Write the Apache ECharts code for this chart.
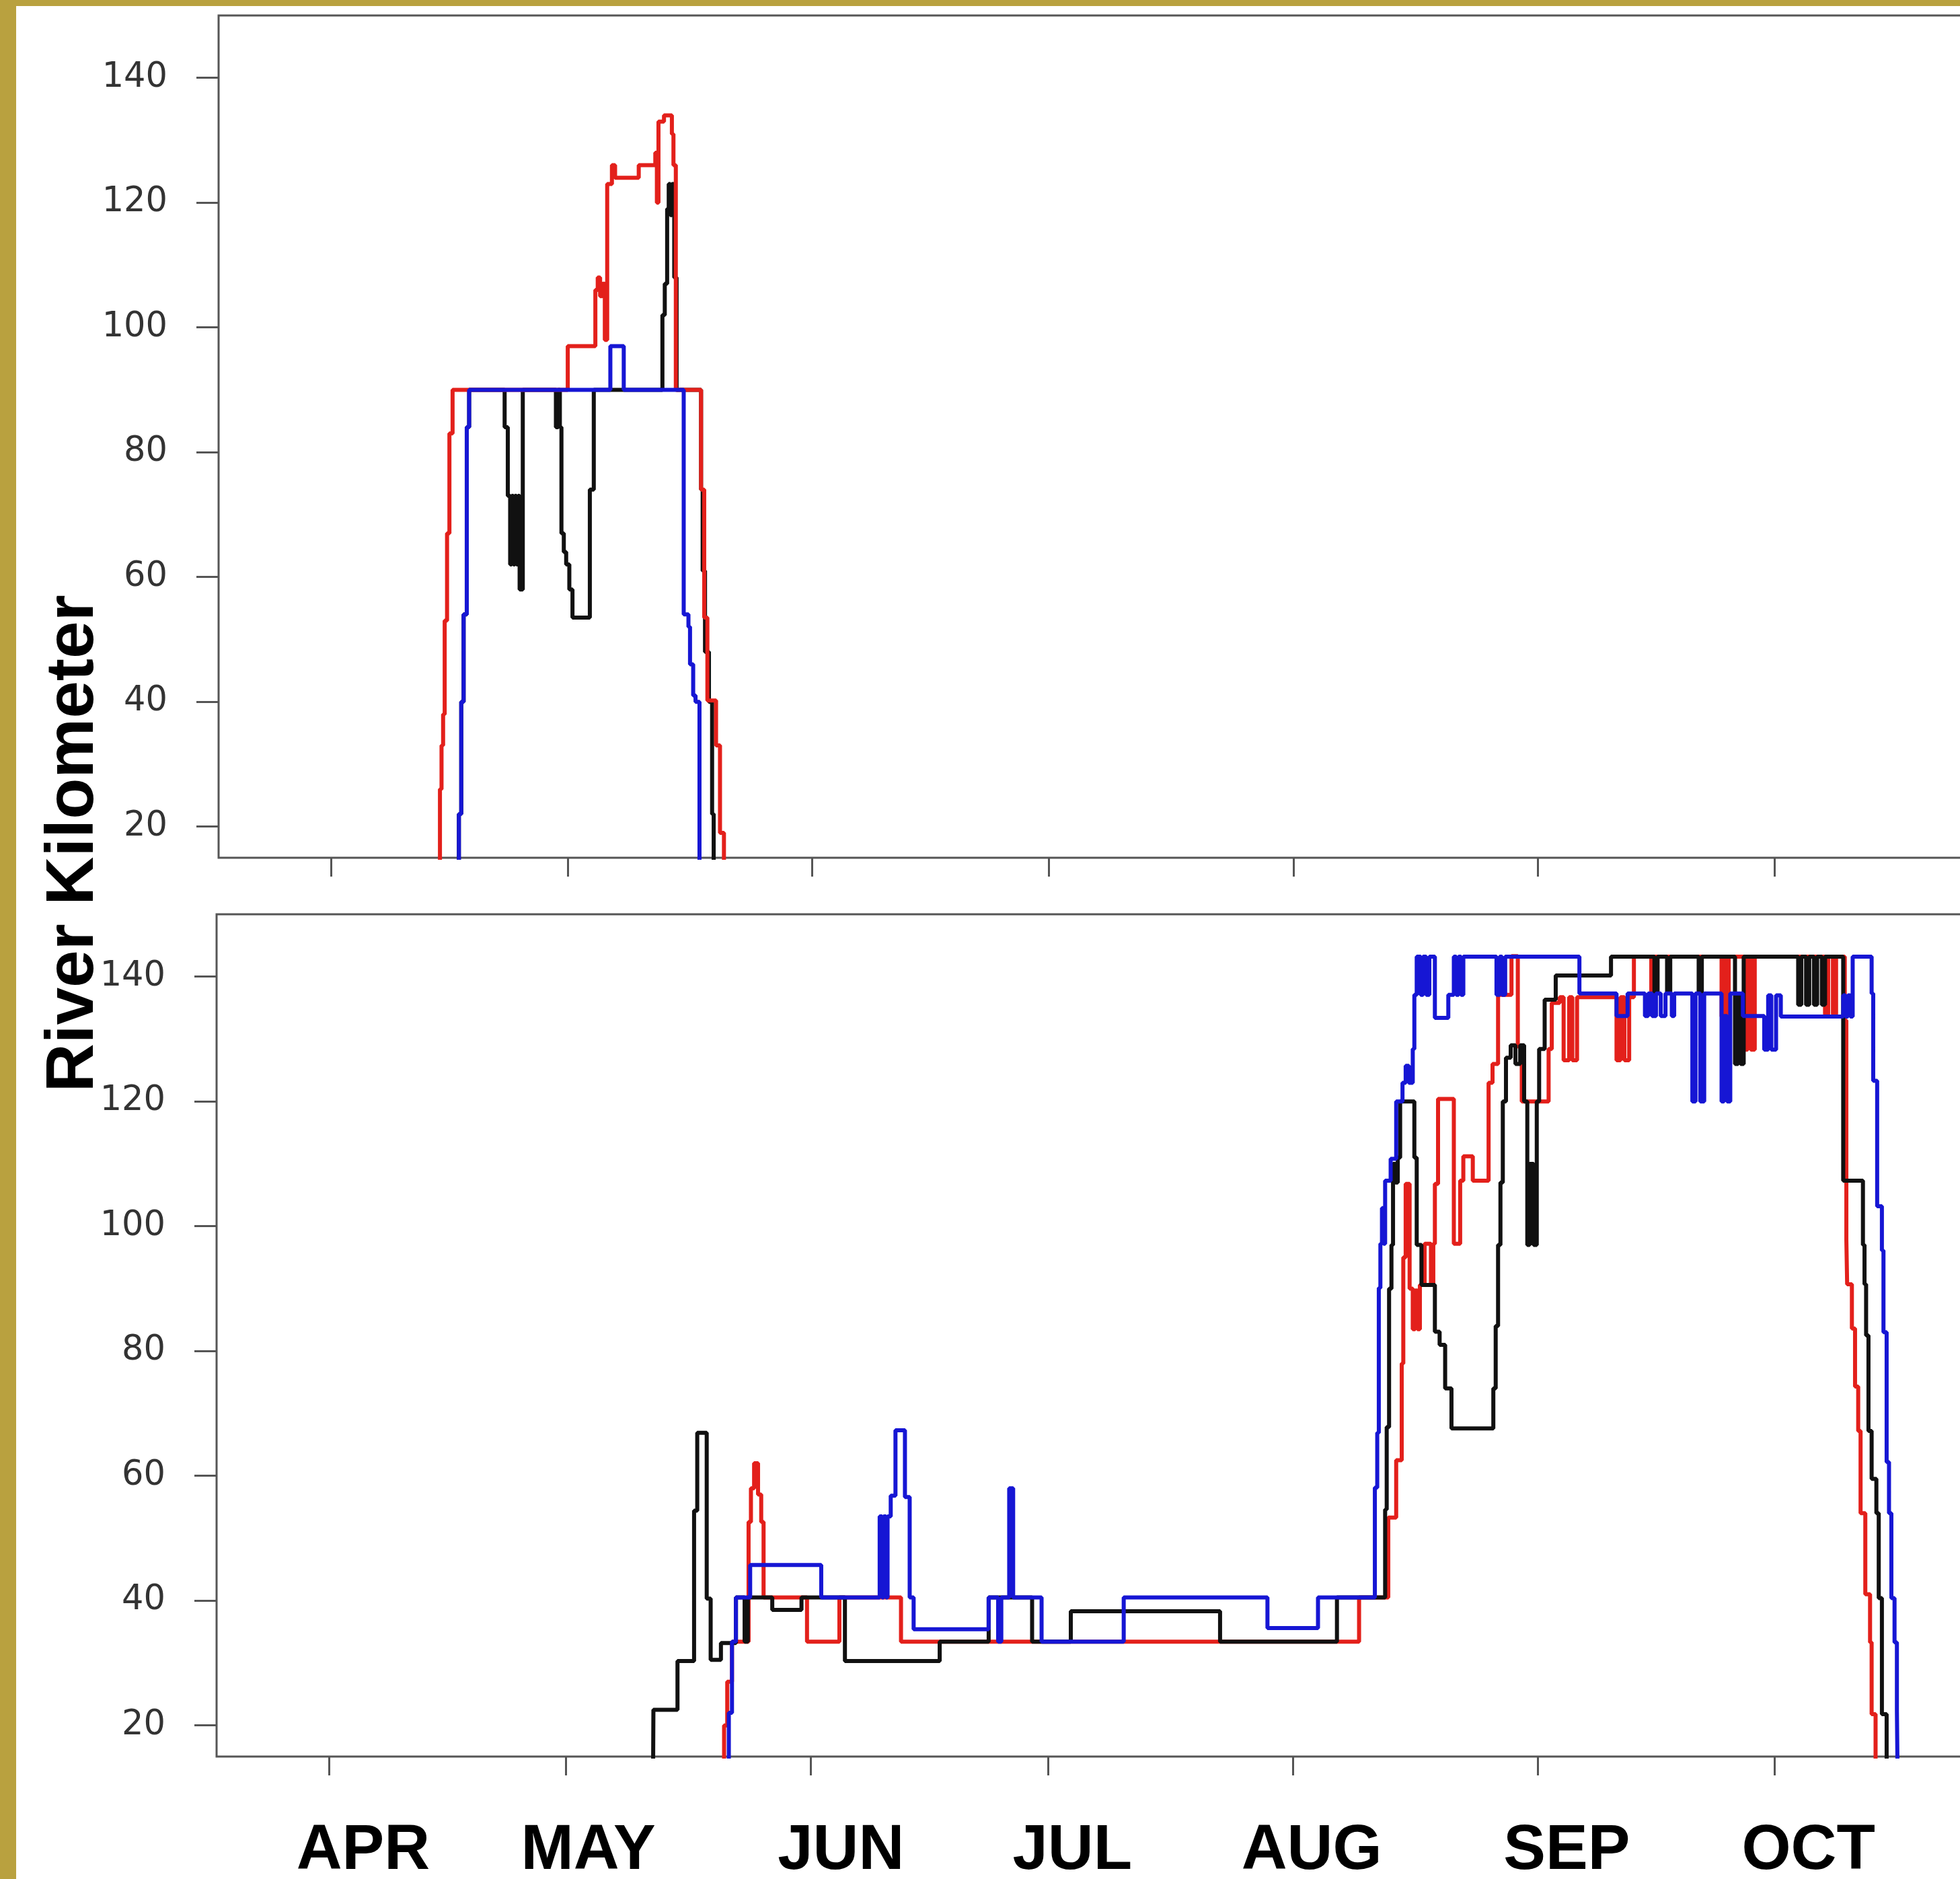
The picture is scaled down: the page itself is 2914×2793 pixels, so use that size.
<!DOCTYPE html>
<html>
<head>
<meta charset="utf-8">
<title>River Kilometer</title>
<script src="https://cdn.jsdelivr.net/npm/echarts@6/dist/echarts.min.js"></script>
<style>
  body { margin: 0; background: #fff; }
  #main { width: 2914px; height: 2793px; }
</style>
</head>
<body>
<div id="main"></div>
<script>
// x values are days since 1 April, y values are river km
var months = ['APR', 'MAY', 'JUN', 'JUL', 'AUG', 'SEP', 'OCT'];
var monthStart = [0, 30, 61, 91, 122, 153, 183];
var labelDays = [4.3, 32.8, 64.8, 94.1, 124.4, 156.7, 187.3];
var kmTicks = [20, 40, 60, 80, 100, 120, 140];

// upper panel
var topRed = [
  [13.6,10],[13.8,26],[14.0,33],[14.2,38],[14.4,53],[14.7,67],[15.0,83],[15.4,90],
  [30.0,97],[33.5,106],[33.8,108],[34.1,105],[34.4,107],[34.7,98],[35.0,123],[35.6,126],[36.0,124],
  [39.0,126],[41.1,128],[41.3,120],[41.5,133],[42.2,134],[43.2,131],[43.4,126],[43.7,90],
  [46.9,74],[47.3,53.5],[47.7,40.2],[48.8,33],[49.3,19],[49.8,10]
];
var topBlack = [
  [16.0,10],[16.2,22],[16.5,40],[16.8,54],[17.2,84],[17.5,90],
  [22.0,84],[22.4,73],[22.7,62],[22.9,73],[23.1,62],[23.3,73],[23.5,62],[23.7,73],[23.9,58],[24.3,90],
  [28.5,84],[28.8,90],[29.0,84],[29.2,67],[29.5,64],[29.8,62],[30.2,58],[30.6,53.5],[32.8,74],[33.3,90],
  [42.0,102],[42.3,107],[42.6,119],[42.8,123],[43.0,118],[43.2,123],[43.5,108],[43.8,90],
  [46.9,74],[47.1,61],[47.4,48],[47.9,40],[48.3,22],[48.5,10]
];
var topBlue = [
  [16.0,10],[16.2,22],[16.5,40],[16.8,54],[17.2,84],[17.5,90],
  [35.4,97],[37.1,90],
  [44.7,54],[45.3,52],[45.5,46],[45.9,41],[46.2,40],[46.7,10]
];

// lower panel
var botRed = [
  [49.6,10],[50.0,20],[50.4,27],[51.0,33.4],[53.1,52.6],[53.4,58],[53.8,62],[54.3,57],[54.7,52.6],[55.0,40.5],
  [60.5,33.4],[64.6,40.5],[72.4,33.4],[130.4,40.5],
  [134.1,53.3],[135.1,62.5],[135.8,78],[136.0,95],[136.3,106.8],[136.8,90],[137.2,83.5],[137.5,89.7],[137.8,83.5],
  [138.1,90.6],[138.7,97.2],[139.5,90.6],[139.8,97.2],[140.0,106.8],[140.4,120.4],[142.4,97.2],[143.2,107.3],
  [143.6,111.2],[144.8,107.3],[146.8,123],[147.3,126],[148.0,137.1],[149.7,143.3],[150.5,128.8],[151.0,120],
  [154.4,128.4],[154.8,135.8],[155.8,136.7],[156.3,126.6],[157.0,136.7],[157.4,126.6],[158.0,136.7],
  [163.0,126.6],[163.5,136.7],[164.0,126.6],[164.6,136.7],[165.2,143.2],[167.4,137],[167.8,143.2],
  [176.3,133.6],[176.6,143.2],[176.9,133.6],[177.2,143.2],[179.2,128.3],[179.6,143.2],[180.0,128.3],[180.5,143.2],
  [189.4,134],[189.8,143.2],[190.4,134],[190.8,143.2],[191.9,133],[192.1,97.8],[192.2,90.7],[192.8,83.6],
  [193.2,74.3],[193.6,67.2],[193.9,54],[194.5,41],[195.1,33.3],[195.3,21.8],[195.8,10]
];
var botBlack = [
  [41.0,10],[41.05,22.5],[44.1,30.3],[46.2,54.4],[46.6,66.9],[47.8,40.3],[48.3,30.5],[49.6,33.2],
  [51.5,40.5],[52.6,33.4],[53.0,40.5],[56.1,38.5],[59.8,40.5],[65.3,30.3],[77.3,33.4],[83.5,40.5],
  [89.0,33.4],[93.9,38.3],[112.8,33.4],[127.6,40.5],
  [133.7,54.6],[133.9,67.8],[134.2,90],[134.5,97],[134.7,110],[135.0,107],[135.3,111],[135.6,120],
  [137.4,111],[137.7,97],[138.3,90.6],[140.0,83.1],[140.6,81],[141.3,74],[142.1,67.6],
  [147.4,74],[147.7,84],[148.0,97],[148.3,107],[148.6,120],[149.0,127],[149.6,129],[150.2,126],[150.8,129],
  [151.3,120],[151.7,97],[152.0,110],[152.5,97],[152.9,120],[153.2,128.4],[153.9,136.3],[155.3,140.2],
  [162.3,143.2],[167.8,137.5],[168.2,143.2],[169.4,137.5],[169.8,143.2],[173.4,137.5],[173.8,143.2],
  [178.0,126],[178.4,137],[178.7,126],[179.1,143.2],
  [186.0,135.5],[186.4,143.2],[187.0,135.5],[187.4,143.2],[188.0,135.5],[188.4,143.2],[189.0,135.5],[189.4,143.2],
  [191.7,107.3],[194.2,97],[194.4,90.7],[194.6,82.5],[194.9,67.2],[195.3,59.5],[195.9,54],[196.2,40.4],
  [196.6,21.8],[197.2,10]
];
var botBlue = [
  [50.2,10],[50.6,22],[51.0,33.4],[51.5,40.5],[53.3,45.7],[62.3,40.5],
  [69.7,53.5],[70.0,40.5],[70.2,53.5],[70.5,40.5],[70.7,53.5],[71.1,56.8],[71.7,67.3],[72.9,56.6],[73.5,40.5],[74.0,35.4],
  [83.5,40.5],[84.7,33.4],[85.1,40.5],[86.1,58],[86.6,40.5],[90.2,33.4],[100.6,40.5],[118.8,35.6],[125.2,40.5],
  [132.4,58.1],[132.7,66.9],[132.9,90.1],[133.1,97.2],[133.3,102.9],[133.5,97.2],[133.7,107.3],[134.4,110.8],
  [135.1,120],[135.9,123],[136.3,125.7],[136.7,123],[137.2,128.4],[137.4,137.1],[137.7,143.2],[138.2,137.1],
  [138.5,143.2],[138.9,137.1],[139.3,143.2],[140.0,133.4],[141.7,137.1],[142.4,143.2],[142.7,137.1],[143.0,143.2],
  [143.3,137.1],[143.6,143.2],[147.8,137.1],[148.2,143.2],[148.5,137.1],[148.9,143.2],[158.3,137.3],
  [163.0,133.7],[164.4,137.3],[166.6,133.7],[167.0,137.3],[167.5,133.7],[168.0,137.3],[168.6,133.7],[169.2,137.3],
  [170.0,133.7],[170.3,137.3],[172.6,120],[173.0,137.3],[173.6,120],[174.1,137.3],[176.3,120],[176.6,133.7],
  [177.0,120],[177.4,137.3],[179.0,133.7],[181.7,128.3],[182.2,137],[182.6,128.3],[183.2,137],[183.8,133.6],
  [191.7,137],[192.0,133.6],[192.3,137],[192.6,133.6],[192.9,143.2],[195.3,137.3],[195.5,123.3],[196.0,103.2],
  [196.6,96.1],[196.8,83],[197.2,62.2],[197.5,54],[197.8,40.4],[198.2,33.3],[198.5,22.3],[198.6,10]
];

var RED = '#e3201b', BLACK = '#111111', BLUE = '#1616d4';
var axisGrey = '#555555';

function track(data, color, panel) {
  return {
    type: 'line',
    xAxisIndex: panel,
    yAxisIndex: panel,
    data: data,
    step: 'end',
    showSymbol: false,
    symbol: 'none',
    clip: true,
    silent: true,
    lineStyle: { color: color, width: 6 },
    itemStyle: { color: color }
  };
}

function monthName(v) {
  var best = 0;
  for (var i = 1; i < labelDays.length; i++) {
    if (Math.abs(labelDays[i] - v) < Math.abs(labelDays[best] - v)) best = i;
  }
  return months[best];
}

function xAxisFor(panel, withLabels) {
  return {
    type: 'value',
    gridIndex: panel,
    min: -14.26,
    max: 207,
    axisLine: { show: false, onZero: false },
    splitLine: { show: false },
    axisTick: {
      show: true,
      customValues: monthStart,
      length: 28,
      lineStyle: { color: axisGrey, width: 3 }
    },
    axisLabel: {
      show: withLabels,
      customValues: labelDays,
      formatter: monthName,
      fontSize: 94,
      fontWeight: 'bold',
      fontFamily: 'Liberation Sans',
      color: '#000',
      margin: 94
    }
  };
}

function yAxisFor(panel) {
  return {
    type: 'value',
    gridIndex: panel,
    min: 15,
    max: 150,
    axisLine: { show: false, onZero: false },
    splitLine: { show: false },
    axisTick: {
      show: true,
      customValues: kmTicks,
      length: 33,
      lineStyle: { color: axisGrey, width: 3 }
    },
    axisLabel: {
      customValues: kmTicks,
      fontSize: 51,
      fontFamily: 'DejaVu Sans',
      color: '#333',
      margin: 76
    }
  };
}

var chart = echarts.init(document.getElementById('main'));
chart.setOption({
  animation: false,
  backgroundColor: '#ffffff',
  grid: [
    { left: 325, top: 23, width: 2595, height: 1252, outerBoundsMode: 'none',
      show: true, borderColor: axisGrey, borderWidth: 3 },
    { left: 322, top: 1359, width: 2598, height: 1252, outerBoundsMode: 'none',
      show: true, borderColor: axisGrey, borderWidth: 3 }
  ],
  xAxis: [xAxisFor(0, false), xAxisFor(1, true)],
  yAxis: [yAxisFor(0), yAxisFor(1)],
  graphic: [
    { type: 'rect', shape: { x: 0, y: 0, width: 24, height: 2793 }, style: { fill: '#b9a13f' } },
    { type: 'rect', shape: { x: 0, y: 0, width: 2914, height: 9 }, style: { fill: '#b9a13f' } },
    {
      type: 'text',
      x: 110,
      y: 1254,
      rotation: Math.PI / 2,
      style: {
        text: 'River Kilometer',
        fontSize: 100,
        fontWeight: 'bold',
        fontFamily: 'Liberation Sans',
        fill: '#000',
        align: 'center',
        verticalAlign: 'middle'
      }
    }
  ],
  series: [
    track(topBlack, BLACK, 0),
    track(topRed, RED, 0),
    track(topBlue, BLUE, 0),
    track(botRed, RED, 1),
    track(botBlack, BLACK, 1),
    track(botBlue, BLUE, 1)
  ]
});
</script>
</body>
</html>
